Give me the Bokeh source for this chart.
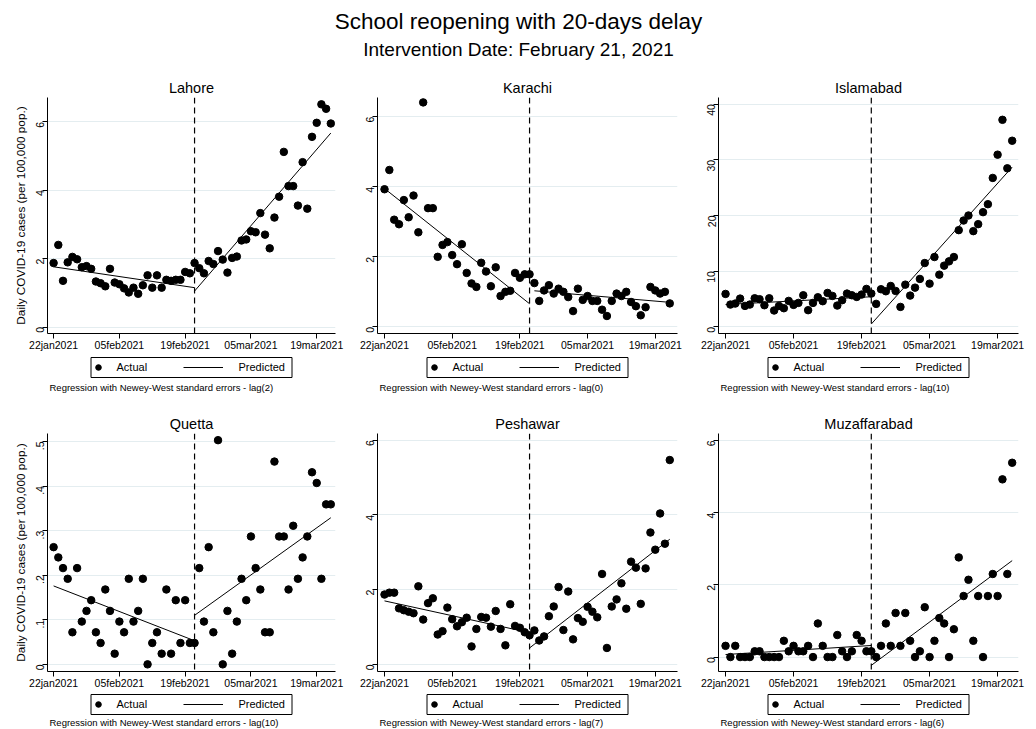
import math
from bokeh.plotting import figure
from bokeh.models import Range1d, FixedTicker, Span, Legend, LegendItem
from bokeh.layouts import column, row
from bokeh.embed import file_html
from bokeh.resources import INLINE
from bokeh.core.properties import value

FONT = "Liberation Sans"

# ---------------- data ----------------
main_title = "School reopening with 20-days delay"
sub_title = "Intervention Date: February 21, 2021"
y_axis_title = "Daily COVID-19 cases (per 100,000 pop.)"

days = list(range(60))  # 22jan2021 .. 22mar2021
x_ticks = [0, 14, 28, 42, 56]
x_tick_labels = ["22jan2021", "05feb2021", "19feb2021", "05mar2021", "19mar2021"]
intervention_day = 30
last_day = 59

cities = ["Lahore", "Karachi", "Islamabad", "Quetta", "Peshawar", "Muzaffarabad"]
lags = [2, 0, 10, 10, 7, 6]

lahore = [1.87, 2.40, 1.35, 1.89, 2.05, 1.98, 1.75, 1.78, 1.70, 1.33,
          1.28, 1.19, 1.70, 1.30, 1.25, 1.13, 1.01, 1.15, 0.97, 1.22,
          1.51, 1.15, 1.51, 1.15, 1.38, 1.35, 1.38, 1.38, 1.61, 1.57,
          1.87, 1.72, 1.57, 1.93, 1.84, 2.22, 1.97, 1.59, 2.02, 2.06,
          2.53, 2.56, 2.80, 2.77, 3.33, 2.70, 2.30, 3.20, 3.81, 5.12,
          4.12, 4.12, 3.55, 4.82, 3.46, 5.56, 5.97, 6.51, 6.38, 5.95]
karachi = [3.93, 4.48, 3.06, 2.93, 3.62, 3.13, 3.75, 2.70, 6.41, 3.39,
           3.39, 2.00, 2.34, 2.42, 2.05, 1.79, 2.36, 1.54, 1.24, 1.14,
           1.83, 1.58, 1.16, 1.70, 0.88, 1.00, 1.03, 1.54, 1.40, 1.50,
           1.50, 1.25, 0.74, 1.04, 1.19, 0.95, 1.09, 1.00, 0.85, 0.45,
           1.09, 0.77, 0.88, 0.74, 0.74, 0.49, 0.31, 0.74, 0.95, 0.88,
           1.00, 0.71, 0.59, 0.33, 0.56, 1.14, 1.04, 0.95, 1.00, 0.67]
islamabad = [5.91, 4.00, 4.18, 5.07, 3.76, 4.00, 5.13, 4.96, 3.88, 5.13,
             2.93, 3.76, 3.34, 4.66, 3.94, 4.30, 5.67, 2.99, 4.30, 5.31,
             4.60, 6.09, 5.55, 3.82, 4.78, 5.97, 5.67, 5.37, 5.79, 6.81,
             5.97, 4.12, 6.75, 6.39, 7.34, 6.45, 3.58, 7.58, 5.61, 7.04,
             8.60, 11.46, 7.76, 12.54, 9.37, 10.99, 11.76, 12.54, 17.37, 19.10,
             20.00, 17.19, 18.45, 20.60, 22.03, 26.75, 30.93, 37.19, 28.48, 33.43]
quetta = [0.263, 0.240, 0.216, 0.192, 0.072, 0.216, 0.096, 0.120, 0.144, 0.072,
          0.048, 0.168, 0.120, 0.024, 0.096, 0.072, 0.192, 0.096, 0.120, 0.192,
          0.000, 0.048, 0.072, 0.024, 0.168, 0.024, 0.144, 0.048, 0.144, 0.048,
          0.048, 0.216, 0.096, 0.263, 0.072, 0.503, 0.000, 0.120, 0.024, 0.096,
          0.192, 0.144, 0.287, 0.216, 0.168, 0.072, 0.072, 0.455, 0.287, 0.287,
          0.168, 0.311, 0.192, 0.240, 0.287, 0.431, 0.407, 0.192, 0.359, 0.359]
peshawar = [1.87, 1.92, 1.92, 1.50, 1.45, 1.41, 1.37, 2.09, 1.20, 1.64,
            1.77, 0.80, 0.89, 1.52, 1.21, 1.02, 1.13, 1.25, 0.48, 0.95,
            1.27, 1.25, 1.01, 1.43, 0.95, 0.51, 1.61, 1.03, 0.98, 0.86,
            0.78, 0.91, 0.64, 0.75, 1.29, 1.55, 2.07, 0.92, 1.95, 0.67,
            1.24, 1.14, 1.54, 1.41, 1.26, 2.42, 0.44, 1.55, 1.74, 2.17,
            1.49, 2.75, 2.59, 1.62, 2.57, 3.53, 3.07, 4.04, 3.23, 5.47]
muzaffarabad = [0.31, 0.00, 0.31, 0.00, 0.00, 0.00, 0.16, 0.16, 0.00, 0.00,
                0.00, 0.00, 0.45, 0.16, 0.31, 0.16, 0.16, 0.31, 0.00, 0.93,
                0.31, 0.00, 0.00, 0.61, 0.16, 0.00, 0.16, 0.61, 0.45, 0.16,
                0.16, 0.00, 0.31, 0.93, 0.31, 1.22, 0.31, 1.22, 0.45, 0.00,
                0.16, 1.38, 0.00, 0.45, 1.08, 0.93, 0.00, 0.77, 2.76, 1.69,
                2.14, 0.45, 1.69, 0.00, 1.69, 2.30, 1.69, 4.92, 2.30, 5.38]

# predicted (fitted) segments: [value at first day, value at last day]
pre_fit = [[1.76, 1.15], [3.95, 0.66], [4.0, 5.4], [0.176, 0.053], [1.70, 0.85], [0.07, 0.32]]
post_fit = [[1.05, 5.67], [1.03, 0.70], [0.5, 28.7], [0.110, 0.329], [0.44, 3.35], [-0.23, 2.67]]
post_start_day = [30, 31, 30, 30, 30, 30]

y_ticks = [[0, 2, 4, 6], [0, 2, 4, 6], [0, 10, 20, 30, 40],
           [0, 0.1, 0.2, 0.3, 0.4, 0.5], [0, 2, 4, 6], [0, 2, 4, 6]]
y_tick_labels = [["0", "2", "4", "6"], ["0", "2", "4", "6"], ["0", "10", "20", "30", "40"],
                 ["0", ".1", ".2", ".3", ".4", ".5"], ["0", "2", "4", "6"], ["0", "2", "4", "6"]]
series = [lahore, karachi, islamabad, quetta, peshawar, muzaffarabad]

# ---------------- layout / style ----------------
y_ranges = [(-0.19, 6.71), (-0.19, 6.55), (-1.2, 41.2), (-0.016, 0.518), (-0.19, 6.18), (-0.40, 6.19)]
x_ranges = [(-1.3, 60.0), (-1.45, 60.6), (-1.45, 60.3)]
col_w = [345, 345, 346]
col_left = [47, 32, 28]
col_right = [10, 13, 18]
plot_h = [290, 296]
row_top = [32, 36]
row_bottom = [22, 22]
foot_h = [42, 36]
legend_bottom = [20, 15]   # px from footer bottom to legend box bottom
note_y = [10, 7]           # px from footer bottom to note centre
GRID = "#E4EDF0"
BOX_W, BOX_H = 201, 20


def panel(i):
    r, c = divmod(i, 3)
    p = figure(width=col_w[c], height=plot_h[r],
               x_range=Range1d(*x_ranges[c]), y_range=Range1d(*y_ranges[i]),
               toolbar_location=None, output_backend="svg",
               min_border_left=col_left[c], min_border_right=col_right[c],
               min_border_top=row_top[r], min_border_bottom=row_bottom[r])
    p.outline_line_color = None
    p.background_fill_color = "white"
    p.title.text = cities[i]
    p.title.align = "center"
    p.title.text_font = FONT
    p.title.text_font_size = "14.5px"
    p.title.text_font_style = "normal"
    p.title.text_color = "black"
    p.title.standoff = 3

    for ax in (p.xaxis[0], p.yaxis[0]):
        ax.axis_line_color = "black"
        ax.major_tick_line_color = "black"
        ax.major_tick_in = 0
        ax.major_tick_out = 5
        ax.minor_tick_line_color = None
        ax.major_label_text_font = FONT
        ax.major_label_text_font_size = "10.5px"
        ax.major_label_text_color = "black"
        ax.major_label_standoff = 0
    p.xaxis.ticker = FixedTicker(ticks=x_ticks)
    p.xaxis.major_label_overrides = dict(zip(x_ticks, x_tick_labels))
    p.yaxis.ticker = FixedTicker(ticks=y_ticks[i])
    p.yaxis.major_label_overrides = dict(zip(y_ticks[i], y_tick_labels[i]))
    p.yaxis.major_label_orientation = math.pi / 2
    p.yaxis.major_label_standoff = 2
    if c == 0:
        p.yaxis.axis_label = y_axis_title
        p.yaxis.axis_label_text_font = FONT
        p.yaxis.axis_label_text_font_size = "11.8px"
        p.yaxis.axis_label_text_font_style = "normal"
        p.yaxis.axis_label_text_color = "black"
        p.yaxis.axis_label_standoff = 2
    p.xgrid.visible = False
    p.ygrid.ticker = FixedTicker(ticks=y_ticks[i])
    p.ygrid.grid_line_color = GRID
    p.ygrid.grid_line_width = 1

    p.add_layout(Span(location=intervention_day, dimension="height",
                      line_color="black", line_dash="6 4", line_width=1.2))

    p.scatter(days, series[i], size=7.5, fill_color="black", line_color="black")
    p.line([0, intervention_day], pre_fit[i], line_color="black", line_width=1)
    p.line([post_start_day[i], last_day], post_fit[i], line_color="black", line_width=1)

    # ---- footer: legend box and note (frame aligned with the plot frame) ----
    frame_w = col_w[c] - col_left[c] - col_right[c]
    fh = foot_h[r]
    f = figure(width=col_w[c], height=fh, x_range=Range1d(0, frame_w), y_range=Range1d(0, fh),
               toolbar_location=None, output_backend="svg",
               min_border_left=col_left[c], min_border_right=col_right[c],
               min_border_top=0, min_border_bottom=0,
               x_axis_location=None, y_axis_location=None)
    f.grid.visible = False
    f.outline_line_color = None
    bx = (frame_w - BOX_W) / 2
    by = legend_bottom[r]
    f.quad(left=[bx], right=[bx + BOX_W], bottom=[by], top=[by + BOX_H],
           fill_color="white", line_color="black", line_width=1)
    # proxy renderers (outside the visible range) for the legend keys
    sc = f.scatter([-50], [-50], size=7.5, fill_color="black", line_color="black")
    ln = f.line([-60, -50], [-50, -50], line_color="black", line_width=1)
    common = dict(orientation="horizontal", border_line_color=None,
                  background_fill_alpha=0, label_text_font=FONT,
                  label_text_font_size="11px", label_text_color="black",
                  glyph_height=BOX_H, padding=0, margin=0, spacing=0)
    leg_a = Legend(items=[LegendItem(label="Actual", renderers=[sc])],
                   location=(bx, by), glyph_width=14, label_standoff=12, **common)
    leg_p = Legend(items=[LegendItem(label="Predicted", renderers=[ln])],
                   location=(bx + 92, by), glyph_width=40, label_standoff=16, **common)
    f.add_layout(leg_a, "center")
    f.add_layout(leg_p, "center")
    f.text(x=[2], y=[note_y[r]],
           text=["Regression with Newey-West standard errors - lag(%d)" % lags[i]],
           text_font=value(FONT), text_font_size="9.5px", text_color="black",
           text_baseline="middle", text_align="left")
    return column(p, f, spacing=0)


header = figure(width=1036, height=65, x_range=Range1d(0, 1036), y_range=Range1d(0, 65),
                toolbar_location=None, output_backend="svg", min_border=0,
                x_axis_location=None, y_axis_location=None)
header.grid.visible = False
header.outline_line_color = None
header.text(x=[518], y=[44], text=[main_title], text_font=value(FONT),
            text_font_size="22.5px", text_align="center", text_baseline="middle",
            text_color="black")
header.text(x=[518], y=[16], text=[sub_title], text_font=value(FONT),
            text_font_size="19px", text_align="center", text_baseline="middle",
            text_color="black")

panels = [panel(i) for i in range(6)]
layout = column(header, row(*panels[:3], spacing=0), row(*panels[3:], spacing=0), spacing=0)

open("out.html", "w").write(file_html(layout, INLINE))
